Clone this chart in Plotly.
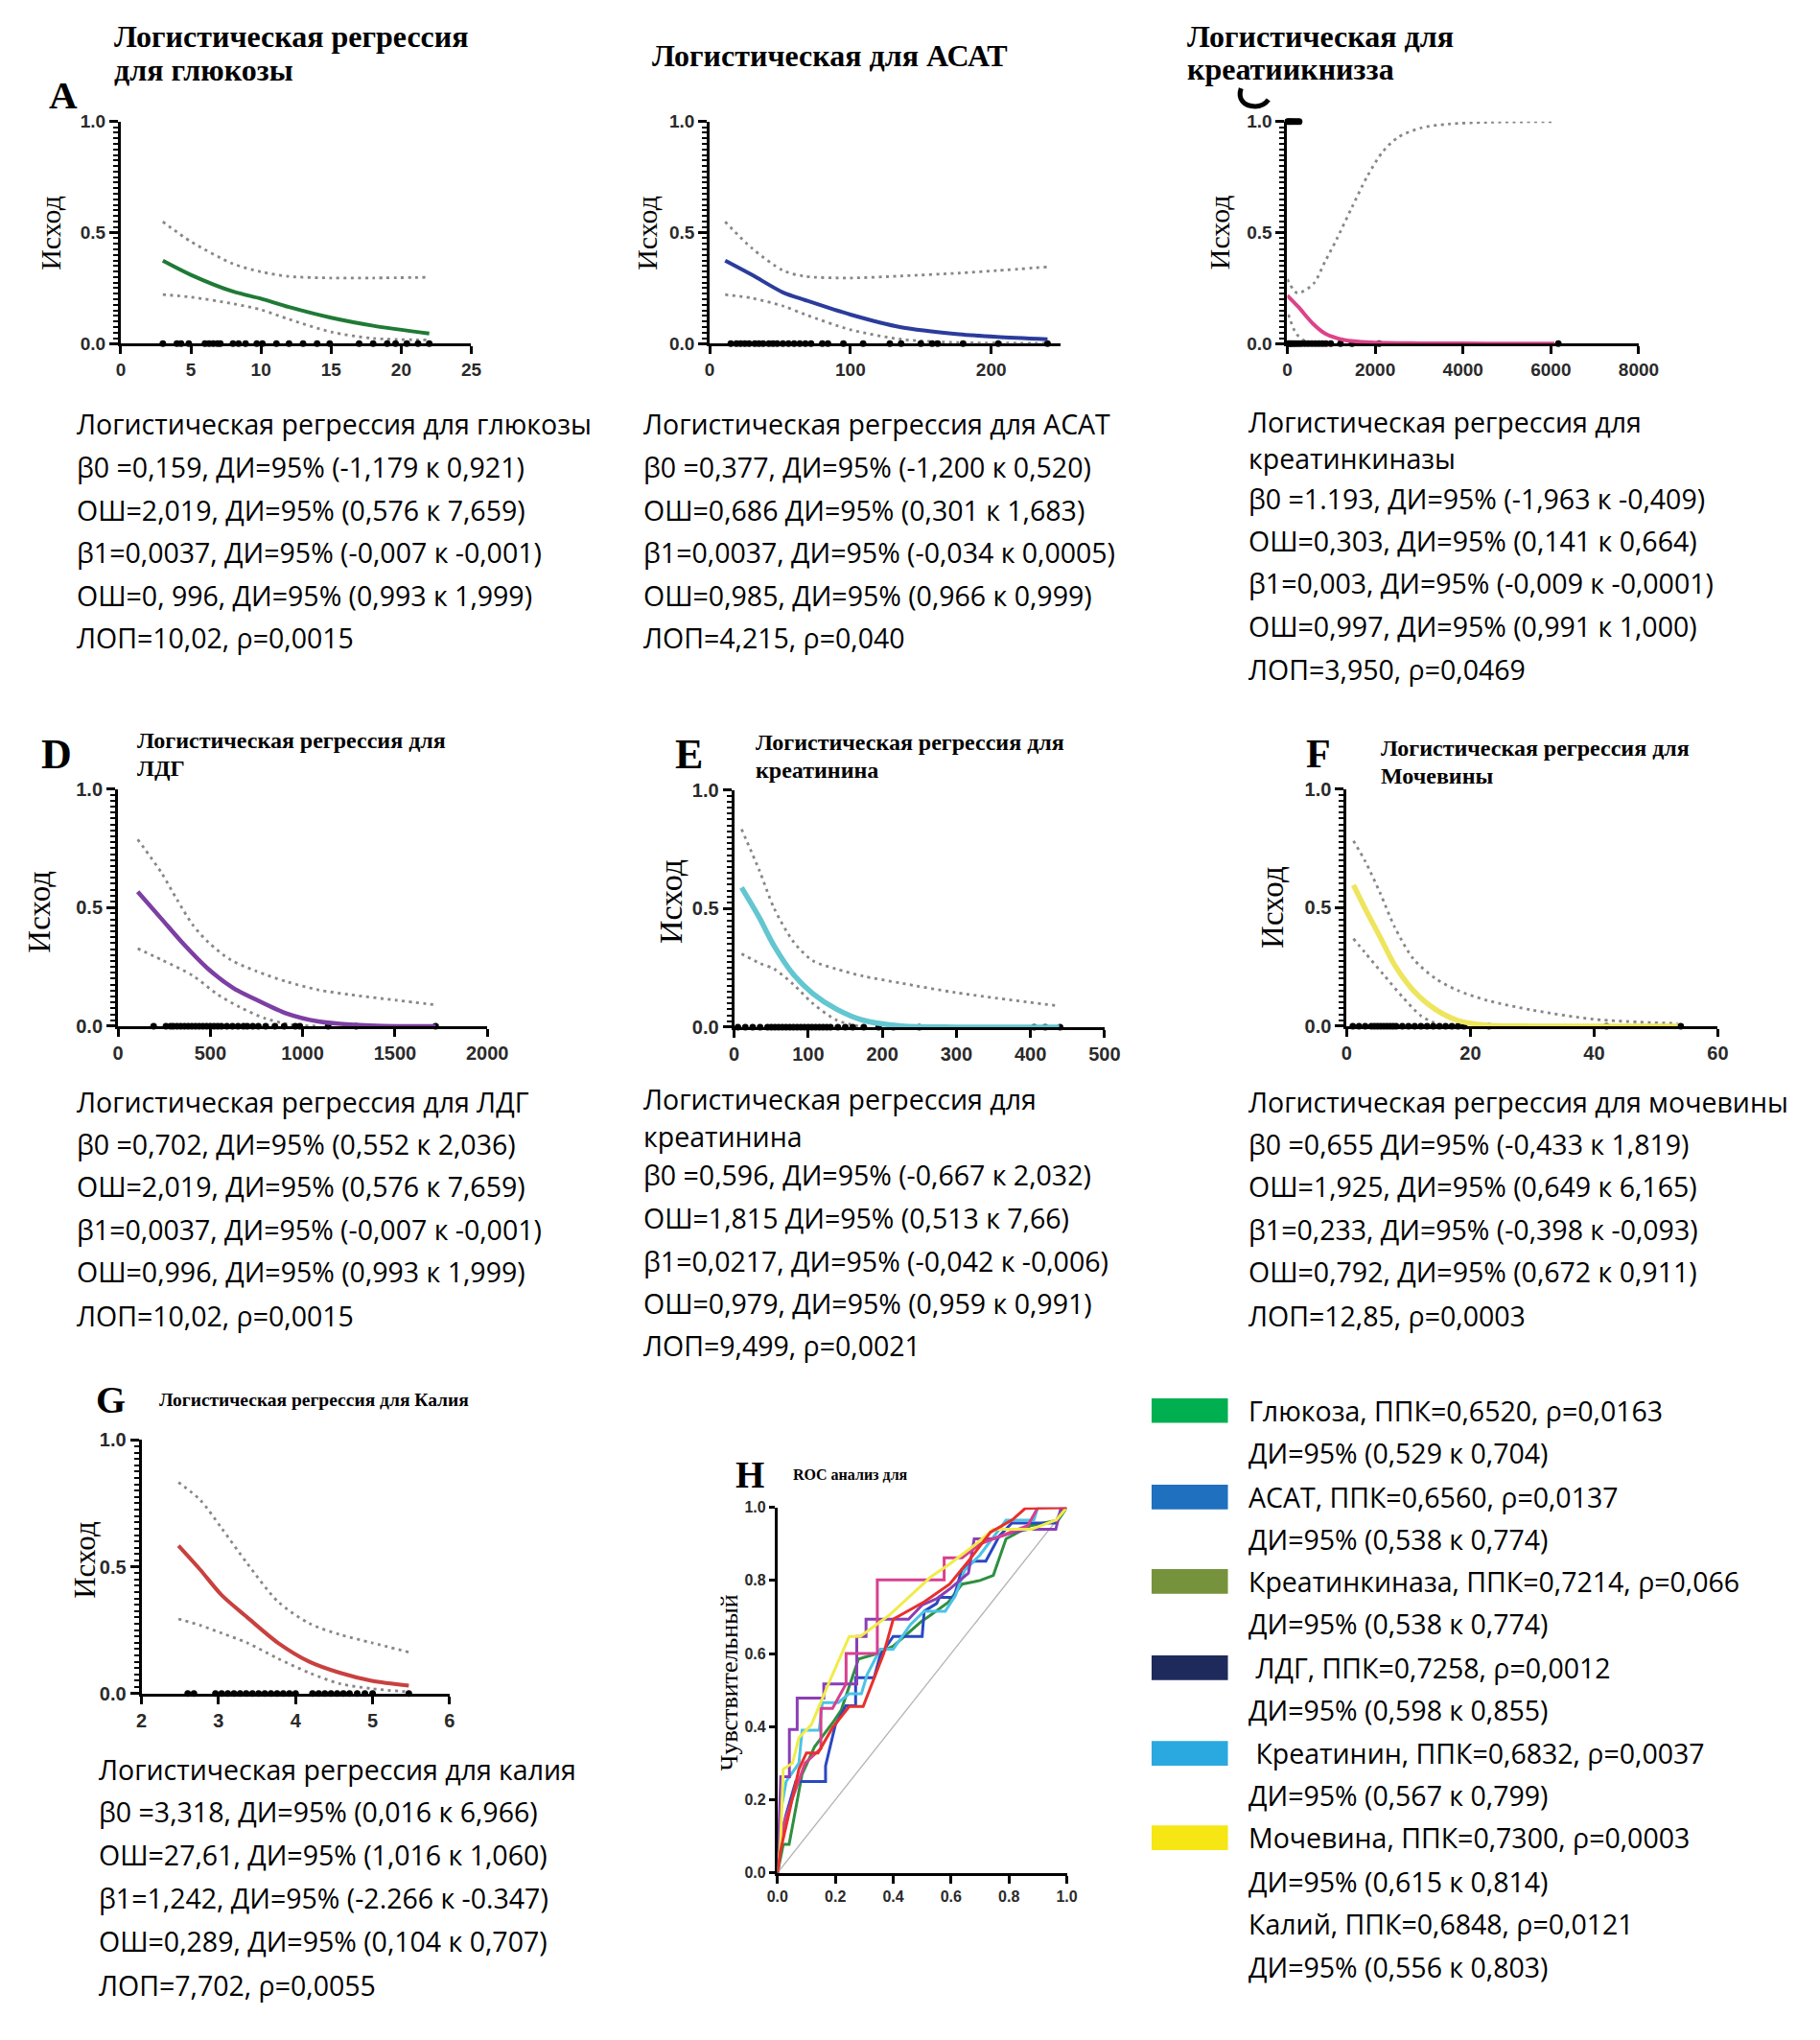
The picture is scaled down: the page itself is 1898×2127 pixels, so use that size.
import plotly.graph_objects as go

W, H = 1898, 2127

# ---------------- data ----------------
# A: glucose
A_x = [3, 5, 8, 10, 12, 15, 18, 22]
A_fit = [0.374, 0.31, 0.235, 0.203, 0.165, 0.117, 0.081, 0.046]
A_up = [0.549, 0.46, 0.36, 0.324, 0.303, 0.296, 0.296, 0.299]
A_lo = [0.221, 0.21, 0.18, 0.153, 0.11, 0.053, 0.024, 0.017]
A_pts = [3.0, 4.0, 4.3, 4.85, 6.0, 6.3, 6.6, 6.9, 7.1, 8.0, 8.4, 8.9, 9.7, 10.1, 11.1,
         12.0, 13.0, 14.0, 14.9, 17.0, 18.0, 19.0, 19.6, 20.4, 21.2, 22.0]

# B: AST
B_x = [11, 30, 52, 68, 100, 136, 177, 204, 240]
B_fit = [0.374, 0.31, 0.231, 0.196, 0.131, 0.074, 0.043, 0.031, 0.02]
B_up = [0.549, 0.43, 0.33, 0.303, 0.296, 0.305, 0.318, 0.329, 0.346]
B_lo = [0.221, 0.205, 0.17, 0.131, 0.063, 0.02, 0.005, 0.003, 0.002]
B_pts = [15, 19, 22, 25, 28, 32, 35, 38, 42, 45, 48, 52, 56, 60, 64, 68, 72, 80, 84,
         95, 109, 128, 136, 150, 158, 162, 180, 205, 240]

# C: creatine kinase
C_x = [0, 245, 596, 860, 1298, 1912, 3000, 4500, 6078]
C_fit = [0.217, 0.167, 0.088, 0.046, 0.017, 0.006, 0.002, 0.001, 0.0]
C_ux = [0, 228, 596, 860, 1123, 1474, 1825, 2175, 2526, 3053, 3667, 4544, 6078]
C_up = [0.29, 0.228, 0.27, 0.37, 0.47, 0.615, 0.755, 0.865, 0.93, 0.972, 0.989, 0.997, 1.0]
C_lx = [26, 202, 421, 700]
C_lo = [0.131, 0.046, 0.01, 0.0]
C_pts0 = [20, 60, 100, 150, 200, 260, 320, 400, 480, 560, 640, 720, 800, 880, 990,
          1210, 1474, 2090, 6170]
C_pts1 = [10, 40, 80, 120, 170, 220, 270]

# D: LDH
D_x = [107, 235, 354, 490, 626, 745, 915, 1085, 1255, 1510, 1720]
D_fit = [0.567, 0.453, 0.347, 0.24, 0.16, 0.113, 0.053, 0.02, 0.007, 0.0, 0.0]
D_ux = [107, 235, 320, 405, 490, 609, 745, 915, 1085, 1255, 1510, 1720]
D_up = [0.787, 0.647, 0.533, 0.427, 0.353, 0.28, 0.233, 0.187, 0.153, 0.133, 0.109, 0.09]
D_lx = [107, 235, 405, 541, 660, 796, 932, 1080]
D_lo = [0.327, 0.28, 0.213, 0.133, 0.08, 0.033, 0.007, 0.0]
D_pts = [193, 260, 285, 300, 320, 340, 360, 380, 400, 420, 440, 460, 480, 500, 520, 540,
         560, 590, 620, 650, 680, 700, 730, 760, 800, 850, 900, 960, 985, 1138, 1290, 1720]

# E: creatinine
E_x = [10, 34, 54, 80, 106, 138, 174, 226, 300, 439]
E_fit = [0.588, 0.461, 0.342, 0.222, 0.142, 0.076, 0.029, 0.005, 0.0, 0.0]
E_up = [0.834, 0.66, 0.50, 0.36, 0.28, 0.245, 0.215, 0.185, 0.145, 0.089]
E_lx = [10, 34, 54, 80, 106, 138, 174]
E_lo = [0.309, 0.27, 0.245, 0.18, 0.1, 0.03, 0.0]
E_pts = [5, 15, 25, 35, 45, 50, 55, 60, 65, 70, 75, 80, 85, 90, 95, 100, 105, 110, 115,
         120, 125, 130, 140, 150, 160, 175, 195, 215, 250, 405, 420, 440]

# F: urea
F_x = [1.1, 3.0, 5.4, 7.8, 10.8, 14.4, 18, 22.8, 30, 40, 53.5]
F_fit = [0.595, 0.495, 0.376, 0.256, 0.15, 0.07, 0.024, 0.004, 0.0, 0.0, 0.0]
F_up = [0.781, 0.695, 0.562, 0.416, 0.283, 0.2, 0.15, 0.108, 0.068, 0.029, 0.011]
F_lx = [1.1, 3.0, 6.0, 9.0, 12.0, 15.0]
F_lo = [0.369, 0.309, 0.216, 0.124, 0.044, 0.004]
F_pts = [1, 2, 3, 4, 4.5, 5, 5.5, 6, 6.5, 7, 7.5, 8, 9, 10, 11, 12, 13, 14, 15, 16, 17,
         18, 19, 23, 42, 54]

# G: potassium
G_x = [2.48, 2.76, 3.04, 3.37, 3.77, 4.18, 4.58, 4.99, 5.47]
G_fit = [0.583, 0.489, 0.388, 0.301, 0.2, 0.125, 0.081, 0.05, 0.031]
G_up = [0.833, 0.764, 0.652, 0.514, 0.363, 0.276, 0.232, 0.2, 0.163]
G_lo = [0.294, 0.269, 0.238, 0.2, 0.138, 0.081, 0.038, 0.019, 0.006]
G_pts = [2.6, 2.68, 2.96, 3.04, 3.12, 3.2, 3.28, 3.36, 3.44, 3.52, 3.6, 3.68, 3.76, 3.84,
         3.92, 4.0, 4.22, 4.3, 4.38, 4.46, 4.54, 4.62, 4.7, 4.8, 4.9, 5.0, 5.47]

# H: ROC curves (1 - specificity, sensitivity)
ROC_glu_x = [0, 0.02, 0.04, 0.06, 0.085, 0.128, 0.19, 0.22, 0.28, 0.345, 0.40, 0.497, 0.52, 0.59, 0.638, 0.70, 0.746, 0.79, 0.875, 0.97, 1.0]
ROC_glu_y = [0, 0.078, 0.078, 0.16, 0.27, 0.345, 0.41, 0.445, 0.585, 0.60, 0.62, 0.688, 0.70, 0.74, 0.79, 0.80, 0.814, 0.914, 0.95, 0.965, 1.0]
ROC_ast_x = [0, 0.01, 0.03, 0.063, 0.166, 0.166, 0.2, 0.236, 0.27, 0.27, 0.334, 0.355, 0.4, 0.5, 0.507, 0.55, 0.56, 0.61, 0.637, 0.68, 0.72, 0.75, 0.767, 0.81, 0.96, 0.98, 1.0]
ROC_ast_y = [0, 0.095, 0.16, 0.25, 0.25, 0.293, 0.405, 0.457, 0.457, 0.534, 0.534, 0.595, 0.647, 0.647, 0.716, 0.737, 0.754, 0.754, 0.83, 0.853, 0.853, 0.897, 0.922, 0.957, 0.957, 0.99, 1.0]
ROC_ldh_x = [0, 0.011, 0.041, 0.041, 0.068, 0.068, 0.16, 0.16, 0.274, 0.274, 0.306, 0.306, 0.453, 0.50, 0.55, 0.594, 0.66, 0.68, 0.745, 0.81, 0.865, 0.962, 0.98, 1.0]
ROC_ldh_y = [0, 0.263, 0.263, 0.392, 0.392, 0.478, 0.478, 0.517, 0.517, 0.647, 0.647, 0.694, 0.694, 0.733, 0.75, 0.776, 0.82, 0.914, 0.914, 0.931, 0.94, 0.94, 1.0, 1.0]
ROC_ck_x = [0, 0.02, 0.05, 0.095, 0.15, 0.15, 0.19, 0.237, 0.237, 0.345, 0.345, 0.576, 0.576, 0.638, 0.70, 0.80, 0.865, 0.90, 1.0]
ROC_ck_y = [0, 0.13, 0.2, 0.3, 0.34, 0.45, 0.45, 0.517, 0.60, 0.60, 0.802, 0.802, 0.862, 0.862, 0.90, 0.93, 0.95, 1.0, 1.0]
ROC_cre_x = [0, 0.01, 0.03, 0.074, 0.085, 0.144, 0.155, 0.21, 0.247, 0.29, 0.31, 0.355, 0.4, 0.46, 0.507, 0.58, 0.615, 0.647, 0.70, 0.756, 0.79, 0.886, 0.9, 1.0]
ROC_cre_y = [0, 0.164, 0.25, 0.3, 0.39, 0.39, 0.466, 0.466, 0.49, 0.49, 0.543, 0.612, 0.612, 0.68, 0.716, 0.716, 0.759, 0.828, 0.87, 0.93, 0.965, 0.965, 1.0, 1.0]
ROC_urea_x = [0, 0.01, 0.02, 0.052, 0.074, 0.117, 0.176, 0.248, 0.286, 0.388, 0.53, 0.595, 0.68, 0.746, 0.877, 0.964, 1.0]
ROC_urea_y = [0, 0.078, 0.284, 0.3, 0.37, 0.405, 0.517, 0.647, 0.647, 0.706, 0.81, 0.845, 0.896, 0.94, 0.94, 0.966, 1.0]
ROC_k_x = [0, 0.01, 0.04, 0.074, 0.1, 0.14, 0.19, 0.248, 0.296, 0.367, 0.40, 0.508, 0.595, 0.66, 0.736, 0.812, 0.856, 1.0]
ROC_k_y = [0, 0.06, 0.164, 0.284, 0.328, 0.328, 0.397, 0.455, 0.455, 0.60, 0.694, 0.742, 0.79, 0.853, 0.932, 0.966, 0.997, 1.0]
ROC_ref_x = [0, 1]
ROC_ref_y = [0, 1]

# text blocks
A_lines = ["Логистическая регрессия для глюкозы",
           "β0 =0,159, ДИ=95% (-1,179 к 0,921)",
           "ОШ=2,019, ДИ=95% (0,576 к 7,659)",
           "β1=0,0037, ДИ=95% (-0,007 к -0,001)",
           "ОШ=0, 996, ДИ=95% (0,993 к 1,999)",
           "ЛОП=10,02, ρ=0,0015"]
B_lines = ["Логистическая регрессия для АСАТ",
           "β0 =0,377, ДИ=95% (-1,200 к 0,520)",
           "ОШ=0,686 ДИ=95% (0,301 к 1,683)",
           "β1=0,0037, ДИ=95% (-0,034 к 0,0005)",
           "ОШ=0,985, ДИ=95% (0,966 к 0,999)",
           "ЛОП=4,215, ρ=0,040"]
C_lines = ["Логистическая регрессия для",
           "креатинкиназы",
           "β0 =1.193, ДИ=95% (-1,963 к -0,409)",
           "ОШ=0,303, ДИ=95% (0,141 к 0,664)",
           "β1=0,003, ДИ=95% (-0,009 к -0,0001)",
           "ОШ=0,997, ДИ=95% (0,991 к 1,000)",
           "ЛОП=3,950, ρ=0,0469"]
D_lines = ["Логистическая регрессия для ЛДГ",
           "β0 =0,702, ДИ=95% (0,552 к 2,036)",
           "ОШ=2,019, ДИ=95% (0,576 к 7,659)",
           "β1=0,0037, ДИ=95% (-0,007 к -0,001)",
           "ОШ=0,996, ДИ=95% (0,993 к 1,999)",
           "ЛОП=10,02, ρ=0,0015"]
E_lines = ["Логистическая регрессия для",
           "креатинина",
           "β0 =0,596, ДИ=95% (-0,667 к 2,032)",
           "ОШ=1,815 ДИ=95% (0,513 к 7,66)",
           "β1=0,0217, ДИ=95% (-0,042 к -0,006)",
           "ОШ=0,979, ДИ=95% (0,959 к 0,991)",
           "ЛОП=9,499, ρ=0,0021"]
F_lines = ["Логистическая регрессия для мочевины",
           "β0 =0,655 ДИ=95% (-0,433 к 1,819)",
           "ОШ=1,925, ДИ=95% (0,649 к 6,165)",
           "β1=0,233, ДИ=95% (-0,398 к -0,093)",
           "ОШ=0,792, ДИ=95% (0,672 к 0,911)",
           "ЛОП=12,85, ρ=0,0003"]
G_lines = ["Логистическая регрессия для калия",
           "β0 =3,318, ДИ=95% (0,016 к 6,966)",
           "ОШ=27,61, ДИ=95% (1,016 к 1,060)",
           "β1=1,242, ДИ=95% (-2.266 к -0.347)",
           "ОШ=0,289, ДИ=95% (0,104 к 0,707)",
           "ЛОП=7,702, ρ=0,0055"]
legend_lines = ["Глюкоза, ППК=0,6520, ρ=0,0163", "ДИ=95% (0,529 к 0,704)",
                "АСАТ, ППК=0,6560, ρ=0,0137", "ДИ=95% (0,538 к 0,774)",
                "Креатинкиназа, ППК=0,7214, ρ=0,066", "ДИ=95% (0,538 к 0,774)",
                " ЛДГ, ППК=0,7258, ρ=0,0012", "ДИ=95% (0,598 к 0,855)",
                " Креатинин, ППК=0,6832, ρ=0,0037", "ДИ=95% (0,567 к 0,799)",
                "Мочевина, ППК=0,7300, ρ=0,0003", "ДИ=95% (0,615 к 0,814)",
                "Калий, ППК=0,6848, ρ=0,0121", "ДИ=95% (0,556 к 0,803)"]
legend_colors = ["#00b050", "#1f70bf", "#76923c", "#1f2a5c", "#2aa9e0", "#f5e614"]

# ---------------- styling ----------------
SANS = "Open Sans"
SERIF = "Liberation Serif"
TICKF = "Liberation Sans"
CI_COLOR = "#878787"
CI_DASH = "3px,4.5px"

fig = go.Figure()


def xd(a, b):
    return [a / W, b / W]


def yd(top, bottom):
    return [1 - bottom / H, 1 - top / H]


def px(x, y):
    return "%.5f,%.5f" % (x / W, 1 - y / H)


layout_axes = {}
annotations = []
shapes = []


def ann(text, x, y, size, family=SANS, xanchor="left", yanchor="middle", angle=0, color="black"):
    annotations.append(dict(text=text, x=x / W, y=1 - y / H, xref="paper", yref="paper", showarrow=False,
                            xanchor=xanchor, yanchor=yanchor, textangle=angle,
                            font=dict(family=family, size=size, color=color)))


def add_axes(i, xdom, ydom, xrange, xdtick, xfmt, yrange, ydtick, yfmt, minor, tick0=0, ticksize=19, ylen=9):
    sx = "" if i == 1 else str(i)
    tickfont = dict(family=TICKF, size=ticksize, color="#2a2a2a", weight="bold")
    xa = dict(domain=xdom, range=xrange, anchor="y" + sx, showline=True, linewidth=3, linecolor="black",
              ticks="outside", ticklen=8, tickwidth=2.5, tickcolor="black", showgrid=False, zeroline=False,
              dtick=xdtick, tick0=tick0, tickformat=xfmt, tickfont=tickfont, layer="below traces", fixedrange=True)
    ya = dict(domain=ydom, range=yrange, anchor="x" + sx, showline=True, linewidth=3, linecolor="black",
              ticks="outside", ticklen=ylen, tickwidth=2.5, tickcolor="black", showgrid=False, zeroline=False,
              dtick=ydtick, tick0=0, tickformat=yfmt, tickfont=tickfont, layer="below traces", fixedrange=True)
    if minor:
        ya["minor"] = dict(dtick=0.025, tick0=0, ticks="outside", ticklen=5, tickwidth=2, tickcolor="black")
    layout_axes["xaxis" + sx] = xa
    layout_axes["yaxis" + sx] = ya
    return "x" + sx, "y" + sx


def logistic_panel(i, xdom, ydom, xrange, xdtick, color, width, fx, fy, ux, uy, lx, ly, pts, pts1=None,
                   tick0=0, ticksize=19):
    xa, ya = add_axes(i, xdom, ydom, xrange, xdtick, "d", [0, 1], 0.5, ".1f", True, tick0=tick0, ticksize=ticksize)
    for cx, cy in ((ux, uy), (lx, ly)):
        fig.add_trace(go.Scatter(x=cx, y=cy, mode="lines", xaxis=xa, yaxis=ya, hoverinfo="skip",
                                 line=dict(color=CI_COLOR, width=2.8, dash=CI_DASH, shape="spline", smoothing=0.8)))
    fig.add_trace(go.Scatter(x=pts, y=[0] * len(pts), mode="markers", xaxis=xa, yaxis=ya, cliponaxis=False,
                             marker=dict(color="black", size=7), hoverinfo="skip"))
    if pts1:
        fig.add_trace(go.Scatter(x=pts1, y=[1] * len(pts1), mode="markers", xaxis=xa, yaxis=ya, cliponaxis=False,
                                 marker=dict(color="black", size=7), hoverinfo="skip"))
    fig.add_trace(go.Scatter(x=fx, y=fy, mode="lines", xaxis=xa, yaxis=ya, cliponaxis=False, hoverinfo="skip",
                             line=dict(color=color, width=width, shape="spline", smoothing=0.8)))


# ---- row 1 ----
logistic_panel(1, xd(117, 489), yd(117, 351), [0, 25], 5, "#1f7a35", 4, A_x, A_fit, A_x, A_up, A_x, A_lo, A_pts)
logistic_panel(2, xd(742, 1114), yd(117, 351), [0, 249], 100, "#2b3c9c", 4, B_x, B_fit, B_x, B_up, B_x, B_lo, B_pts)
logistic_panel(3, xd(1355, 1728), yd(117, 351), [0, 8000], 2000, "#dc4388", 4, C_x, C_fit, C_ux, C_up, C_lx, C_lo, C_pts0, C_pts1)
# ---- row 2 ----
logistic_panel(4, xd(114, 506), yd(820, 1070), [0, 2000], 500, "#7c3fa3", 4.5, D_x, D_fit, D_ux, D_up, D_lx, D_lo, D_pts, ticksize=20)
logistic_panel(5, xd(768, 1161), yd(821, 1071), [0, 500], 100, "#63c6d0", 5.5, E_x, E_fit, E_x, E_up, E_lx, E_lo, E_pts, ticksize=20)
logistic_panel(6, xd(1418, 1812), yd(820, 1070), [0, 60], 20, "#eee55e", 5.5, F_x, F_fit, F_x, F_up, F_lx, F_lo, F_pts, ticksize=20)
# ---- row 3 ----
logistic_panel(7, xd(139, 466), yd(1506, 1773), [2, 6], 1, "#c8413f", 4, G_x, G_fit, G_x, G_up, G_x, G_lo, G_pts, tick0=2, ticksize=20)

# ROC panel
xa, ya = add_axes(8, xd(814, 1121), yd(1577, 1962), [0, 1], 0.2, ".1f", [0, 1], 0.2, ".1f", False,
                  ticksize=16, ylen=6)
fig.add_trace(go.Scatter(x=ROC_ref_x, y=ROC_ref_y, mode="lines", xaxis=xa, yaxis=ya, hoverinfo="skip",
                         line=dict(color="#b4b4b4", width=1.3)))
roc_series = [(ROC_glu_x, ROC_glu_y, "#2f8f3f"), (ROC_ast_x, ROC_ast_y, "#2a48c2"),
              (ROC_cre_x, ROC_cre_y, "#4cc3e6"), (ROC_ldh_x, ROC_ldh_y, "#8a3fb5"),
              (ROC_ck_x, ROC_ck_y, "#d6408f"), (ROC_urea_x, ROC_urea_y, "#f0ec48"),
              (ROC_k_x, ROC_k_y, "#e8302c")]
for rx, ry, rc in roc_series:
    fig.add_trace(go.Scatter(x=rx, y=ry, mode="lines", xaxis=xa, yaxis=ya, cliponaxis=False, hoverinfo="skip",
                             line=dict(color=rc, width=3)))

# ---------------- annotations ----------------
# panel letters
ann("<b>A</b>", 56, 89, 41, SERIF, xanchor="center")
ann("<b>D</b>", 49, 784, 44, SERIF, xanchor="center")
ann("<b>E</b>", 720, 784, 44, SERIF, xanchor="center")
ann("<b>F</b>", 1388, 783, 42, SERIF, xanchor="center")
ann("<b>G</b>", 106, 1464, 40, SERIF, xanchor="center")
ann("<b>H</b>", 785, 1542, 39, SERIF, xanchor="center")
# panel C letter: only its lower part is visible below the title in the original
shapes.append(dict(type="path", xref="paper", yref="paper",
                   path="M " + px(1306, 82) + " C " + px(1302, 93) + " " + px(1309, 101) + " " + px(1321, 101)
                        + " C " + px(1328, 101) + " " + px(1332, 98) + " " + px(1335, 94),
                   line=dict(color="black", width=5)))

# titles
ann("<b>Логистическая регрессия</b>", 108, 27, 32, SERIF)
ann("<b>для глюкозы</b>", 108, 63, 32, SERIF)
ann("<b>Логистическая для АСАТ</b>", 679, 47, 32, SERIF)
ann("<b>Логистическая для</b>", 1247, 27, 32, SERIF)
ann("<b>креатиикнизза</b>", 1247, 62, 32, SERIF)
ann("<b>Логистическая регрессия для</b>", 132, 769, 24, SERIF)
ann("<b>ЛДГ</b>", 132, 798, 24, SERIF)
ann("<b>Логистическая регрессия для</b>", 789, 771, 24, SERIF)
ann("<b>креатинина</b>", 789, 800, 24, SERIF)
ann("<b>Логистическая регрессия для</b>", 1452, 777, 24, SERIF)
ann("<b>Мочевины</b>", 1452, 806, 24, SERIF)
ann("<b>Логистическая регрессия для Калия</b>", 156, 1464, 19.5, SERIF)
ann("<b>ROC анализ для</b>", 828, 1542, 16, SERIF)

# y-axis titles
ann("Исход", 42, 234, 30, SERIF, xanchor="center", angle=-90)
ann("Исход", 675, 234, 30, SERIF, xanchor="center", angle=-90)
ann("Исход", 1283, 234, 30, SERIF, xanchor="center", angle=-90)
ann("Исход", 31, 949, 33, SERIF, xanchor="center", angle=-90)
ann("Исход", 700, 939, 34, SERIF, xanchor="center", angle=-90)
ann("Исход", 1340, 945, 33, SERIF, xanchor="center", angle=-90)
ann("Исход", 78, 1632, 31, SERIF, xanchor="center", angle=-90)
ann("Чувствительный", 763, 1762, 26, SERIF, xanchor="center", angle=-90)

# statistics text blocks
TS = 28.5
for lines, x0, ys in [
    (A_lines, 68, [436, 481, 526, 571, 616, 661]),
    (B_lines, 670, [436, 481, 526, 571, 616, 661]),
    (C_lines, 1312, [433, 472, 514, 559, 603, 649, 694]),
    (D_lines, 68, [1150, 1194, 1239, 1284, 1329, 1375]),
    (E_lines, 670, [1147, 1186, 1227, 1272, 1318, 1362, 1407]),
    (F_lines, 1312, [1150, 1194, 1239, 1284, 1329, 1375]),
    (G_lines, 92, [1853, 1898, 1943, 1989, 2034, 2081]),
]:
    for t, y in zip(lines, ys):
        ann(t, x0, y, TS, SANS)

leg_y = [1475, 1520, 1566, 1611, 1655, 1700, 1746, 1791, 1836, 1880, 1925, 1971, 2016, 2061]
for t, y in zip(legend_lines, leg_y):
    ann(t, 1312, y, TS, SANS)
for k, c in enumerate(legend_colors):
    yc = leg_y[2 * k]
    shapes.append(dict(type="rect", xref="paper", yref="paper", x0=1211 / W, x1=1292 / W,
                       y0=1 - (yc + 13) / H, y1=1 - (yc - 13) / H, fillcolor=c, line=dict(width=0)))

fig.update_layout(width=W, height=H, margin=dict(l=0, r=0, t=0, b=0), paper_bgcolor="white",
                  plot_bgcolor="white", showlegend=False, annotations=annotations, shapes=shapes,
                  **layout_axes)

fig.write_html("out.html", config={"displayModeBar": False},
               post_script="document.body.style.margin='0px';")
